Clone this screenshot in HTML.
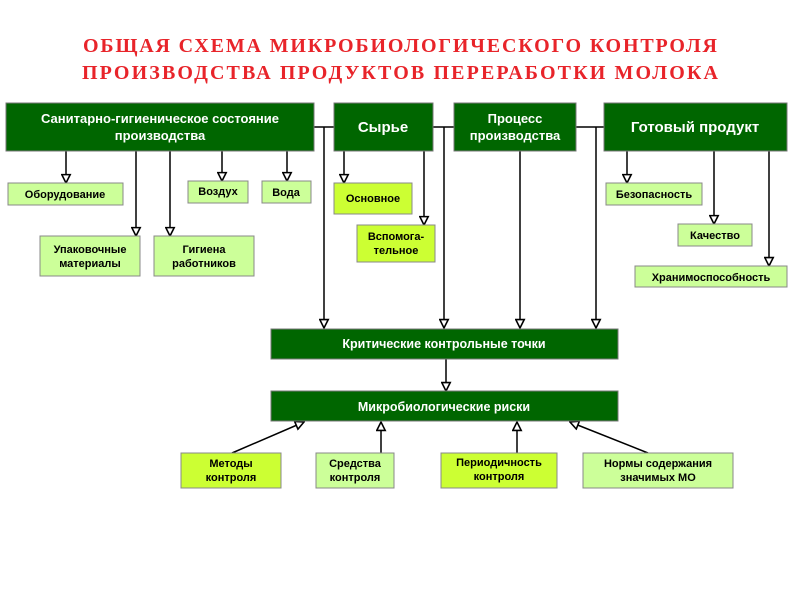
<!DOCTYPE html>
<html><head><meta charset="utf-8"><style>
body{margin:0;background:#fff}
svg text{font-family:"Liberation Sans",sans-serif;font-weight:bold}
</style></head><body>
<svg width="800" height="600" xmlns="http://www.w3.org/2000/svg">
<defs>
<marker id="a" viewBox="0 0 10 10" refX="9" refY="5" markerWidth="7" markerHeight="7" orient="auto">
<path d="M1,1 L9,5 L1,9 Z" fill="#fff" stroke="#000" stroke-width="1.5"/></marker>
</defs>
<rect width="800" height="600" fill="#fff"/>
<g fill="#e8242a" font-size="20" text-anchor="middle">
<text x="400" y="52" textLength="634" lengthAdjust="spacing" style="font-family:'Liberation Serif',serif">ОБЩАЯ СХЕМА МИКРОБИОЛОГИЧЕСКОГО КОНТРОЛЯ</text>
<text x="400" y="79" textLength="636" lengthAdjust="spacing" style="font-family:'Liberation Serif',serif">ПРОИЗВОДСТВА  ПРОДУКТОВ  ПЕРЕРАБОТКИ  МОЛОКА</text>
</g>
<g stroke="#000" stroke-width="1.5" fill="none">
<path d="M314 127H334M433 127H454M576 127H604"/>
<g marker-end="url(#a)">
<path d="M324 127V328"/><path d="M444 127V328"/><path d="M596 127V328"/><path d="M520 151V328"/>
<path d="M66 151V183"/><path d="M222 151V181"/><path d="M287 151V181"/><path d="M136 151V236"/><path d="M170 151V236"/>
<path d="M344 151V183"/><path d="M424 151V225"/><path d="M627 151V183"/><path d="M714 151V224"/><path d="M769 151V266"/><path d="M446 359V391"/>
<path d="M232 453L304 422"/><path d="M381 453V422"/><path d="M517 453V422"/><path d="M648 453L570 422"/>
</g>
</g>
<g fill="#006600" stroke="#777" stroke-width="1">
<rect x="6" y="103" width="308" height="48"/>
<rect x="334" y="103" width="99" height="48"/>
<rect x="454" y="103" width="122" height="48"/>
<rect x="604" y="103" width="183" height="48"/>
<rect x="271" y="329" width="347" height="30"/>
<rect x="271" y="391" width="347" height="30"/>
</g>
<g fill="#fff" text-anchor="middle">
<text x="160" y="123" font-size="13">Санитарно-гигиеническое состояние</text>
<text x="160" y="140" font-size="13">производства</text>
<text x="383" y="132" font-size="15">Сырье</text>
<text x="515" y="123" font-size="13">Процесс</text>
<text x="515" y="140" font-size="13">производства</text>
<text x="695" y="132" font-size="15">Готовый продукт</text>
<text x="444" y="348" font-size="12.5">Критические контрольные точки</text>
<text x="444" y="411" font-size="12.5">Микробиологические риски</text>
</g>
<g stroke="#888" stroke-width="1">
<rect x="8" y="183" width="115" height="22" fill="#ccff99"/>
<rect x="188" y="181" width="60" height="22" fill="#ccff99"/>
<rect x="262" y="181" width="49" height="22" fill="#ccff99"/>
<rect x="40" y="236" width="100" height="40" fill="#ccff99"/>
<rect x="154" y="236" width="100" height="40" fill="#ccff99"/>
<rect x="334" y="183" width="78" height="31" fill="#ccff33"/>
<rect x="357" y="225" width="78" height="37" fill="#ccff33"/>
<rect x="606" y="183" width="96" height="22" fill="#ccff99"/>
<rect x="678" y="224" width="74" height="22" fill="#ccff99"/>
<rect x="635" y="266" width="152" height="21" fill="#ccff99"/>
<rect x="181" y="453" width="100" height="35" fill="#ccff33"/>
<rect x="316" y="453" width="78" height="35" fill="#ccff99"/>
<rect x="441" y="453" width="116" height="35" fill="#ccff33"/>
<rect x="583" y="453" width="150" height="35" fill="#ccff99"/>
</g>
<g fill="#000" font-size="11" text-anchor="middle">
<text x="65" y="198">Оборудование</text>
<text x="218" y="195">Воздух</text>
<text x="286" y="196">Вода</text>
<text x="90" y="253">Упаковочные</text>
<text x="90" y="267">материалы</text>
<text x="204" y="253">Гигиена</text>
<text x="204" y="267">работников</text>
<text x="373" y="202">Основное</text>
<text x="396" y="240">Вспомога-</text>
<text x="396" y="254">тельное</text>
<text x="654" y="198">Безопасность</text>
<text x="715" y="239">Качество</text>
<text x="711" y="281">Хранимоспособность</text>
<text x="231" y="467">Методы</text>
<text x="231" y="481">контроля</text>
<text x="355" y="467">Средства</text>
<text x="355" y="481">контроля</text>
<text x="499" y="466">Периодичность</text>
<text x="499" y="480">контроля</text>
<text x="658" y="467">Нормы содержания</text>
<text x="658" y="481">значимых МО</text>
</g>
</svg>
</body></html>
